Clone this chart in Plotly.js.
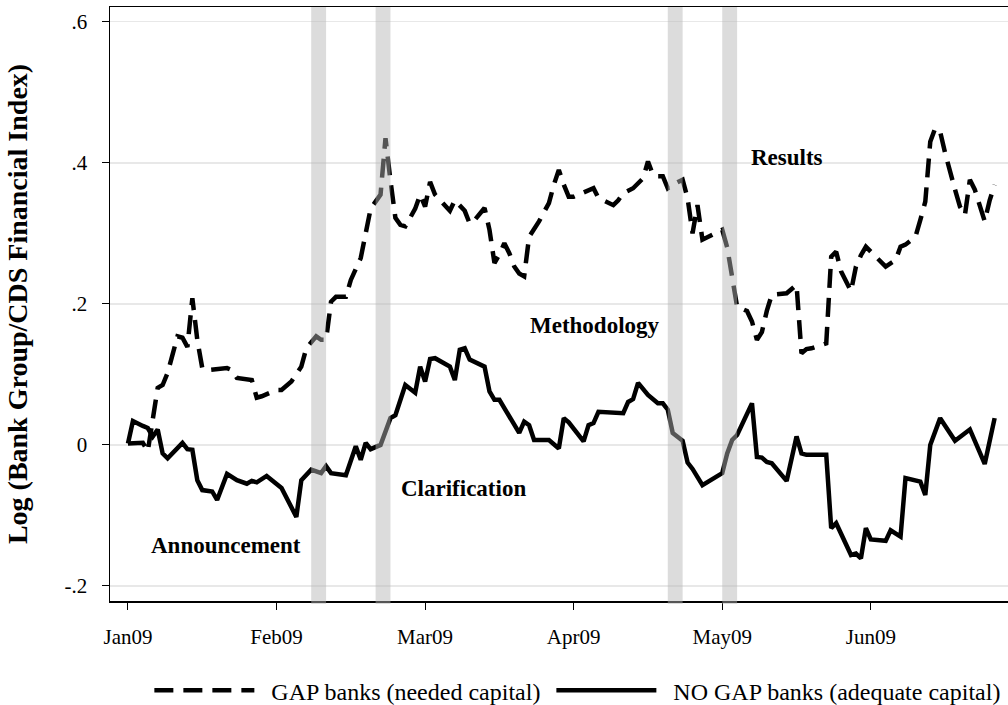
<!DOCTYPE html>
<html>
<head>
<meta charset="utf-8">
<script src="https://cdn.plot.ly/plotly-3.0.1.min.js"></script>
<style>html,body{margin:0;padding:0;background:#fff}#chart{width:1008px;height:705px}</style>
</head>
<body>
<div id="chart"></div>
<script>
// Observation (day) numbers and values for the GAP banks series
const gapDay = [0,3,4,6,7,8,9,10,11,12,13,14,15,16,20,21,22,25,26,27,30,31,33,35,36,38,39,40,41,42,44,45,47,49,51,52,53,54,55,56,58,59,60,61,62,64,65,66,68,69,70,72,73,74,75,76,77,78,79,80,81,83,85,86,87,88,89,90,92,94,95,98,99,100,102,104,105,106,107,108,109,110,112,113,114,115,116,119,120,121,122,123,125,126,127,128,129,130,133,134,135,136,137,138,141,142,143,144,146,147,148,149,150,152,153,155,156,157,159,160,161,162,163,164,165,167,168,169,170,171,172,173,174,175];
const gapVal = [0.002,0.003,-0.009,0.081,0.085,0.102,0.128,0.154,0.152,0.139,0.208,0.149,0.109,0.106,0.109,0.106,0.095,0.092,0.067,0.069,0.078,0.078,0.090,0.111,0.137,0.154,0.149,0.149,0.203,0.210,0.210,0.234,0.265,0.335,0.355,0.435,0.375,0.322,0.312,0.310,0.335,0.355,0.338,0.373,0.355,0.338,0.332,0.347,0.332,0.314,0.319,0.336,0.305,0.258,0.270,0.286,0.272,0.253,0.243,0.239,0.295,0.317,0.343,0.369,0.390,0.369,0.352,0.352,0.358,0.364,0.350,0.340,0.347,0.357,0.364,0.378,0.402,0.383,0.381,0.381,0.364,0.369,0.376,0.350,0.300,0.340,0.291,0.302,0.305,0.280,0.240,0.196,0.190,0.175,0.149,0.160,0.190,0.213,0.215,0.222,0.227,0.130,0.136,0.137,0.144,0.267,0.274,0.246,0.218,0.253,0.269,0.281,0.274,0.258,0.253,0.262,0.281,0.284,0.295,0.319,0.345,0.430,0.449,0.444,0.414,0.362,0.338,0.326,0.376,0.362,0.338,0.317,0.347,0.369];

// Observation (day) numbers and values for the NO GAP banks series
const noGapDay = [0,1,3,4,5,6,7,8,11,12,13,14,15,17,18,20,22,24,25,26,28,31,34,35,37,39,40,41,44,46,47,48,49,51,53,54,56,58,59,60,61,62,65,66,67,68,69,72,73,74,75,77,79,80,81,82,85,87,88,89,92,93,94,95,100,101,102,103,105,107,108,109,110,112,113,114,115,116,120,121,122,123,126,127,128,129,130,133,135,136,137,141,142,143,146,147,148,149,150,153,154,156,157,160,161,162,164,167,170,173,175];
const noGapVal = [0.002,0.034,0.027,0.024,0.012,0.022,-0.012,-0.019,0.003,-0.006,-0.007,-0.050,-0.064,-0.066,-0.078,-0.041,-0.050,-0.055,-0.051,-0.053,-0.044,-0.061,-0.102,-0.050,-0.035,-0.040,-0.030,-0.040,-0.043,-0.002,-0.021,0.003,-0.006,0.000,0.038,0.042,0.085,0.074,0.111,0.090,0.122,0.123,0.111,0.092,0.135,0.137,0.121,0.111,0.076,0.064,0.064,0.040,0.017,0.033,0.028,0.007,0.007,-0.005,0.038,0.032,0.005,0.028,0.031,0.047,0.045,0.061,0.065,0.088,0.071,0.059,0.059,0.050,0.017,0.006,-0.025,-0.034,-0.047,-0.057,-0.040,-0.012,0.007,0.014,0.059,-0.017,-0.018,-0.024,-0.026,-0.051,0.012,-0.012,-0.014,-0.014,-0.118,-0.111,-0.156,-0.154,-0.161,-0.118,-0.134,-0.136,-0.121,-0.130,-0.047,-0.052,-0.071,0.000,0.038,0.006,0.022,-0.027,0.038];

// Event windows (day numbers) and their labels
const eventStart = [37, 50, 109, 120];
const eventEnd   = [40, 53, 112, 123];
const eventNames = ["Announcement", "Clarification", "Methodology", "Results"];
const eventLabelDay = [19.8, 67.7, 94.4, 133];
const eventLabelVal = [-0.143, -0.062, 0.169, 0.407];

// Axis ticks
const xTickDays   = [0, 30, 60, 90, 120, 150];
const xTickLabels = ["Jan09", "Feb09", "Mar09", "Apr09", "May09", "Jun09"];
const yTickVals   = [-0.2, 0, 0.2, 0.4, 0.6];
const yTickLabels = ["-.2", "0", ".2", ".4", ".6"];

const seriesNames = ["GAP banks (needed capital)", "NO GAP banks (adequate capital)"];

const FONT = "Liberation Serif, Times New Roman, serif";
const NB = "\u00a0";

const traces = [
  {x: gapDay, y: gapVal, type: "scatter", mode: "lines", name: NB + NB + seriesNames[0] + NB,
   line: {color: "#000", width: 4.5, dash: "19px,10px"}},
  {x: noGapDay, y: noGapVal, type: "scatter", mode: "lines", name: NB + NB + seriesNames[1],
   line: {color: "#000", width: 4.5}}
];

const shapes = eventStart.map((s, i) => ({
  type: "rect", xref: "x", yref: "paper", x0: s, x1: eventEnd[i], y0: -0.005, y1: 1,
  fillcolor: "rgba(181,181,181,0.47)", line: {width: 0}, layer: "above"
}));

const annotations = eventNames.map((t, i) => ({
  x: eventLabelDay[i], y: eventLabelVal[i], xref: "x", yref: "y", text: t,
  showarrow: false, font: {family: FONT, size: 23, color: "#000", weight: "bold"}
}));

const layout = {
  width: 1008, height: 705,
  margin: {l: 110, r: 0, t: 7, b: 104, autoexpand: false},
  paper_bgcolor: "#fff", plot_bgcolor: "#fff",
  font: {family: FONT, color: "#000"},
  showlegend: true,
  legend: {orientation: "h", x: 0.521, xanchor: "center", y: -0.113, yanchor: "top",
           font: {family: FONT, size: 24, color: "#000"}, itemwidth: 100, traceorder: "normal"},
  xaxis: {range: [-3.63, 177.7], tickvals: xTickDays, ticktext: xTickLabels,
          ticks: "outside", ticklen: 7, tickwidth: 1, tickcolor: "#000",
          showline: true, linecolor: "#000", linewidth: 1.5, mirror: true,
          showgrid: false, zeroline: false, ticklabelstandoff: 9,
          tickfont: {family: FONT, size: 21, color: "#000"}},
  yaxis: {range: [-0.2213, 0.621], tickvals: yTickVals, ticktext: yTickLabels,
          ticks: "outside", ticklen: 7, tickwidth: 1, tickcolor: "#000",
          showline: true, linecolor: "#000", linewidth: 1.5,
          showgrid: true, gridcolor: "#e8e8e8", gridwidth: 1.3, zeroline: false,
          ticklabelstandoff: 10,
          tickfont: {family: FONT, size: 21, color: "#000"},
          title: {text: "Log (Bank Group/CDS Financial Index)", standoff: 28,
                  font: {family: FONT, size: 28, color: "#000", weight: "bold"}}},
  shapes: shapes,
  annotations: annotations
};

Plotly.newPlot("chart", traces, layout, {staticPlot: true});
</script>
</body>
</html>
